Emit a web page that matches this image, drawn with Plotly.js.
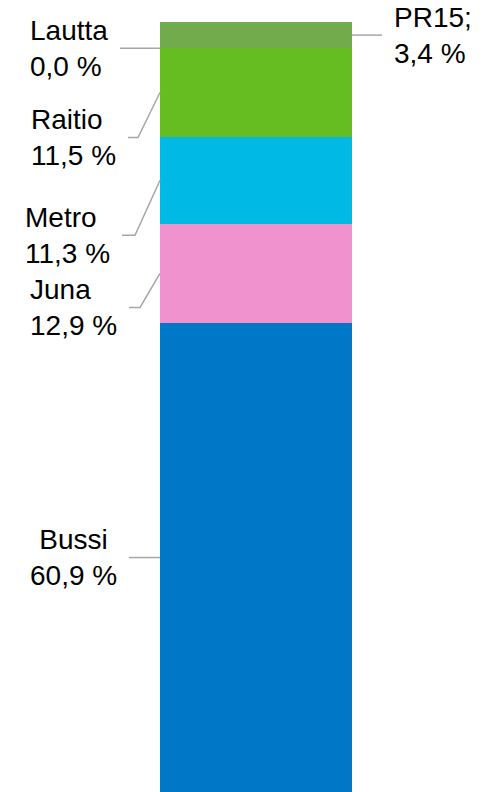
<!DOCTYPE html>
<html>
<head>
<meta charset="utf-8">
<script src="https://cdn.plot.ly/plotly-3.0.1.min.js"></script>
<style>
  html, body { margin: 0; padding: 0; background: #fff; }
  #chart { width: 500px; height: 792px; }
</style>
</head>
<body>
<div id="chart"></div>
<script>
// kulkutapa, bottom to top of the stack
const modes = ['Bussi', 'Juna', 'Metro', 'Raitio', 'Lautta', 'PR15'];
const shares = [60.9, 12.9, 11.3, 11.5, 0.0, 3.4];
const nameLabels = ['Bussi', 'Juna', 'Metro', 'Raitio', 'Lautta', 'PR15;'];
const valueLabels = ['60,9 %', '12,9 %', '11,3 %', '11,5 %', '0,0 %', '3,4 %'];
const colors = ['#0078C8', '#F092CD', '#00B9E4', '#65BD21', '#65BD21', '#71AB4C'];

// leader lines: pixel offsets from the bar edge at the segment middle
// elbow = [dx, dy] or null, end = dx of the horizontal end
const leaders = {
    'Bussi':  {side: 'left',  elbow: null,      end: -31, align: 'center'},
    'Juna':   {side: 'left',  elbow: [-20, 34], end: -31, align: 'left'},
    'Metro':  {side: 'left',  elbow: [-25, 55], end: -38, align: 'left'},
    'Raitio': {side: 'left',  elbow: [-22, 45], end: -32, align: 'left'},
    'Lautta': {side: 'left',  elbow: null,      end: -40, align: 'left'},
    'PR15':   {side: 'right', elbow: null,      end: 30,  align: 'left'}
};

const W = 500, H = 792;
const M = {l: 0, r: 0, t: 22, b: 0};
const barCenterPx = 256, barWidthPx = 192;

const total = shares.reduce((a, b) => a + b, 0);
const pxPerX = barWidthPx; // bar width is 1 unit
const xRange = [-barCenterPx / pxPerX, (W - barCenterPx) / pxPerX];
const yRange = [0, total];
const pxPerY = (H - M.t - M.b) / total;

let traces = [];
let shapes = [];
let annotations = [];
let cum = 0;
for (let i = 0; i < modes.length; i++) {
    traces.push({
        type: 'bar',
        x: [0],
        y: [shares[i]],
        width: [1],
        name: modes[i],
        marker: {color: colors[i], line: {width: 0}},
        hoverinfo: 'skip'
    });

    let ld = leaders[modes[i]];
    let sign = ld.side === 'left' ? -1 : 1;
    let x0 = sign * 0.5;
    let y0 = cum + shares[i] / 2;
    let pts = [[x0, y0]];
    let yEnd = y0;
    if (ld.elbow) {
        yEnd = y0 - ld.elbow[1] / pxPerY;
        pts.push([x0 + ld.elbow[0] / pxPerX, yEnd]);
    }
    let xEnd = x0 + ld.end / pxPerX;
    pts.push([xEnd, yEnd]);
    let path = pts.map((p, k) => (k === 0 ? 'M ' : 'L ') + p[0] + ',' + p[1]).join(' ');
    shapes.push({
        type: 'path', xref: 'x', yref: 'y', path: path,
        line: {color: '#A6A6A6', width: 1.5}
    });
    annotations.push({
        x: xEnd, y: yEnd, xref: 'x', yref: 'y',
        text: nameLabels[i] + '<br>' + valueLabels[i],
        showarrow: false,
        xanchor: ld.side === 'left' ? 'right' : 'left',
        yanchor: 'middle',
        xshift: sign * 10,
        align: ld.align,
        font: {family: 'Liberation Sans, Arial, sans-serif', size: 28, color: '#000'}
    });
    cum += shares[i];
}

const layout = {
    width: W,
    height: H,
    margin: M,
    barmode: 'stack',
    showlegend: false,
    paper_bgcolor: '#fff',
    plot_bgcolor: '#fff',
    xaxis: {range: xRange, visible: false, fixedrange: true},
    yaxis: {range: yRange, visible: false, fixedrange: true},
    shapes: shapes,
    annotations: annotations
};

Plotly.newPlot('chart', traces, layout, {staticPlot: true, displayModeBar: false});
</script>
</body>
</html>
